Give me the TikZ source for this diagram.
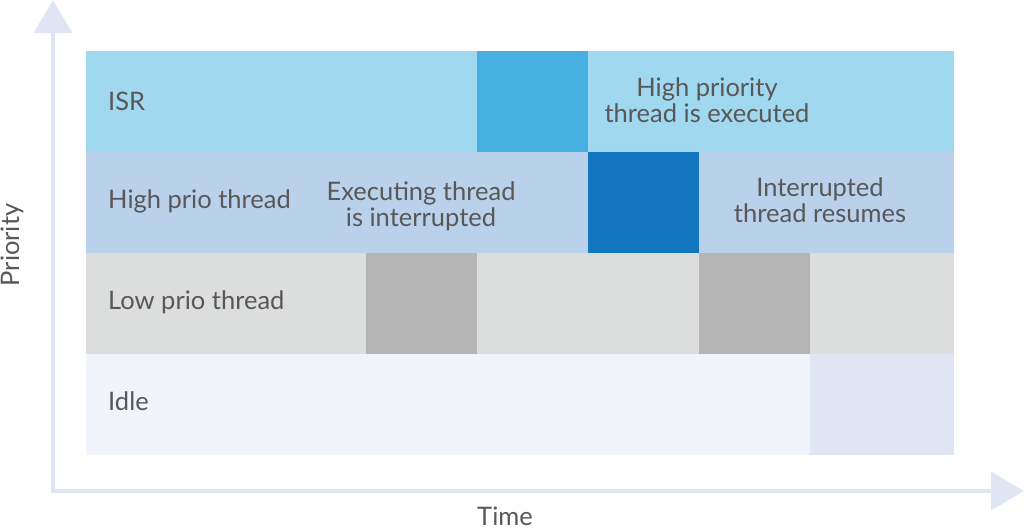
\documentclass[tikz,border=0pt]{standalone}
\usepackage{fontspec}
\setmainfont{Lato}
\usepackage{tikz}
\usetikzlibrary{arrows.meta,backgrounds,calc}
\definecolor{isrrow}{HTML}{A0D8EF}
\definecolor{isrblock}{HTML}{45B0E1}
\definecolor{highrow}{HTML}{B9D1EA}
\definecolor{highblock}{HTML}{1476BF}
\definecolor{lowrow}{HTML}{DCDDDD}
\definecolor{lowblock}{HTML}{B4B5B4}
\definecolor{idlerow}{HTML}{F1F4FA}
\definecolor{idleblock}{HTML}{DFE5F2}
\definecolor{axiscol}{HTML}{DFE5F2}
\definecolor{txt}{HTML}{595757}

\begin{document}
\begin{tikzpicture}[x=1pt,y=1pt,
  label/.style={text=txt,font=\fontsize{25.5}{26}\selectfont,inner sep=0pt},
  rowlabel/.style={label,anchor=west},
  note/.style={label,align=center},
  axis/.style={draw=axiscol,line width=4pt,-{Triangle[width=38pt,length=33pt]}}]
\useasboundingbox (0,0) rectangle (1024,531);
% rows
\fill[isrrow]  (86,379) rectangle (954,480);
\fill[highrow] (86,278) rectangle (954,379);
\fill[lowrow]  (86,177) rectangle (954,278);
\fill[idlerow] (86,76)  rectangle (954,177);
% busy blocks
\fill[isrblock]  (477,379) rectangle (588,480);
\fill[highblock] (588,278) rectangle (699,379);
\foreach \x in {366,699}
  \fill[lowblock] (\x,177) rectangle ++(111,101);
\fill[idleblock] (810,76) rectangle (954,177);
% axes
\coordinate (origin) at (53,40);
\coordinate (ytop) at (53,531);
\coordinate (xend) at (1024,40);
\draw[axis] (origin) -- (ytop);
\draw[axis] ([xshift=-2pt]origin) -- (xend);
\node[label,rotate=90] (prio) at (12,286) {Priority};
\node[label] (time) at (505,15) {Time};
% labels
\node[rowlabel] (isr) at (108,430) {ISR};
\node[rowlabel] (high) at (108,330) {High prio thread};
\node[rowlabel] (low) at (108,229) {Low prio thread};
\node[rowlabel] (idle) at (108,130) {Idle};
\node[note] (interrupted) at (421,325) {Executing thread\\is interrupted};
\node[note] (executed) at (707,431) {High priority\\thread is executed};
\node[note] (resumes) at (820,331) {Interrupted\\thread resumes};
\end{tikzpicture}
\end{document}
